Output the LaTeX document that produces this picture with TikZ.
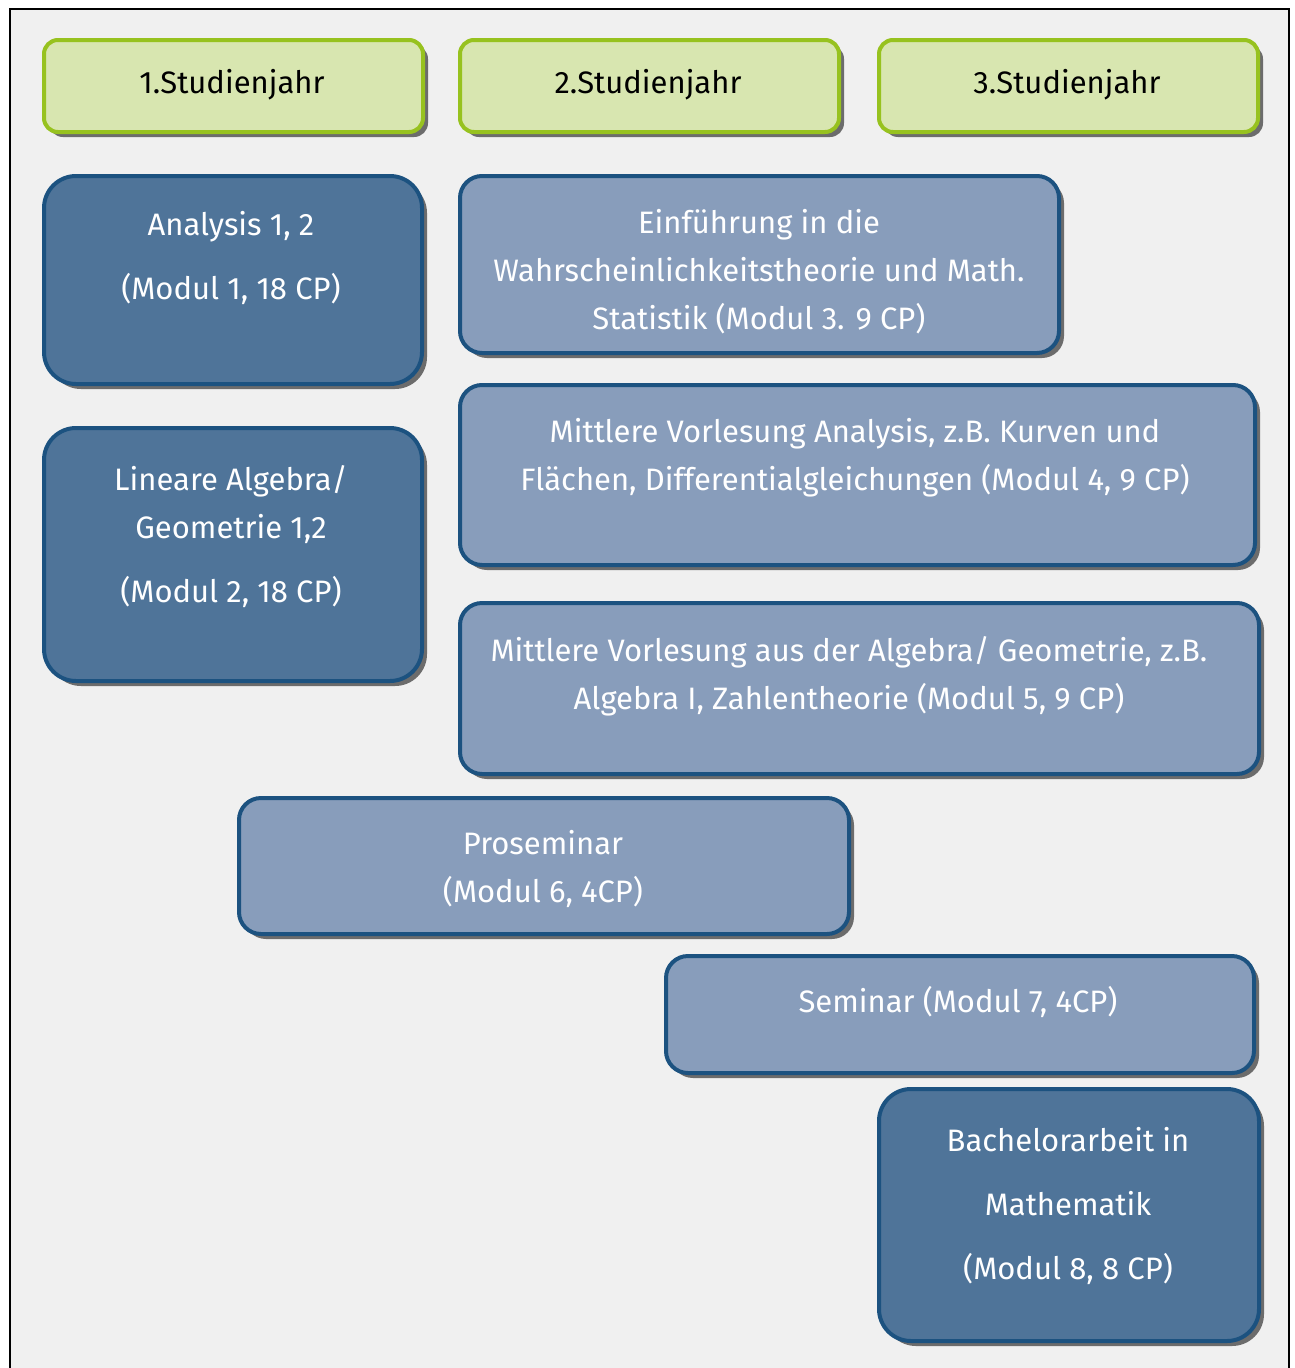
\documentclass[tikz,border=0pt]{standalone}
\usepackage{fontspec}
\setmainfont{Fira Sans}
\usetikzlibrary{shadows}
\definecolor{bgc}{HTML}{F0F0F0}
\definecolor{hdfill}{HTML}{D8E6B0}
\definecolor{hdline}{HTML}{97C21F}
\definecolor{dkfill}{HTML}{4F7499}
\definecolor{ltfill}{HTML}{889DBB}
\definecolor{bxline}{HTML}{1C5280}
\tikzset{
  boxbase/.style={anchor=north west, inner sep=0pt, line width=4pt,
    drop shadow={shadow xshift=5pt, shadow yshift=-5pt, opacity=0.65, fill=black!85}},
  hdbox/.style={boxbase, fill=hdfill, draw=hdline, rounded corners=14pt},
  dkbox/.style={boxbase, fill=dkfill, draw=bxline, rounded corners=32pt},
  ltbox/.style={boxbase, fill=ltfill, draw=bxline, rounded corners=22pt},
  hdtxt/.style={font=\fontsize{31}{48}\selectfont, text=black, align=center, inner sep=0pt},
  wtxt/.style={font=\fontsize{31}{48}\selectfont, text=white, align=center, inner sep=0pt},
}
\begin{document}
\begin{tikzpicture}[x=1pt,y=-1pt]
\useasboundingbox (0,0) rectangle (1294,1368);
\fill[white] (0,0) rectangle (1294,1368);
\fill[bgc] (10,9) rectangle (1289,1368);
\draw[line width=2pt, line cap=rect] (10,1368) -- (10,9) -- (1289,9) -- (1289,1368);

% headers
\node[hdbox, minimum width=379pt, minimum height=92pt] (h1) at (42,38) {};
\node[hdbox, minimum width=379pt, minimum height=92pt] (h2) at (458,38) {};
\node[hdbox, minimum width=379pt, minimum height=92pt] (h3) at (877,38) {};
\node[hdtxt] (t1) at (232,85) {1.Studienjahr};
\node[hdtxt] (t2) at (648,85) {2.Studienjahr};
\node[hdtxt] (t3) at (1067,85) {3.Studienjahr};

% boxes
\node[dkbox, minimum width=378pt, minimum height=208pt] (ana) at (42,174) {};
\node[wtxt] (anat) at (231,258) {Analysis 1, 2\\[16pt](Modul 1, 18 CP)};

\node[ltbox, minimum width=599pt, minimum height=177pt] (einf) at (458,174) {};
\begin{scope}
\clip (460,176) rectangle (1056,334);
\node[wtxt] (einft) at (759,272) {Einführung in die\\Wahrscheinlichkeitstheorie und Math.\\Statistik (Modul 3. 9 CP)};
\end{scope}

\node[ltbox, minimum width=795pt, minimum height=180pt] (mana) at (458,383) {};
\node[wtxt] (manat) at (855,458) {Mittlere Vorlesung Analysis, z.B. Kurven und\\Flächen, Differentialgleichungen (Modul 4, 9 CP)};

\node[dkbox, minimum width=378pt, minimum height=253pt] (lin) at (42,426) {};
\node[wtxt] (lint) at (231,537) {Lineare Algebra/\\Geometrie 1,2\\[16pt](Modul 2, 18 CP)};

\node[ltbox, minimum width=799pt, minimum height=171pt] (malg) at (458,601) {};
\node[wtxt] (malgt) at (849,676) {Mittlere Vorlesung aus der Algebra/ Geometrie, z.B.\\Algebra I, Zahlentheorie (Modul 5, 9 CP)};

\node[ltbox, minimum width=610pt, minimum height=136pt] (pros) at (237,796) {};
\node[wtxt] (prost) at (543,869) {Proseminar\\(Modul 6, 4CP)};

\node[ltbox, minimum width=588pt, minimum height=117pt] (sem) at (664,954) {};
\node[wtxt] (semt) at (958,1002) {Seminar (Modul 7, 4CP)};

\node[dkbox, minimum width=380pt, minimum height=252pt] (bach) at (877,1087) {};
\node[wtxt] (bacht) at (1068,1206) {Bachelorarbeit in\\[16pt]Mathematik\\[16pt](Modul 8, 8 CP)};
\end{tikzpicture}
\end{document}
